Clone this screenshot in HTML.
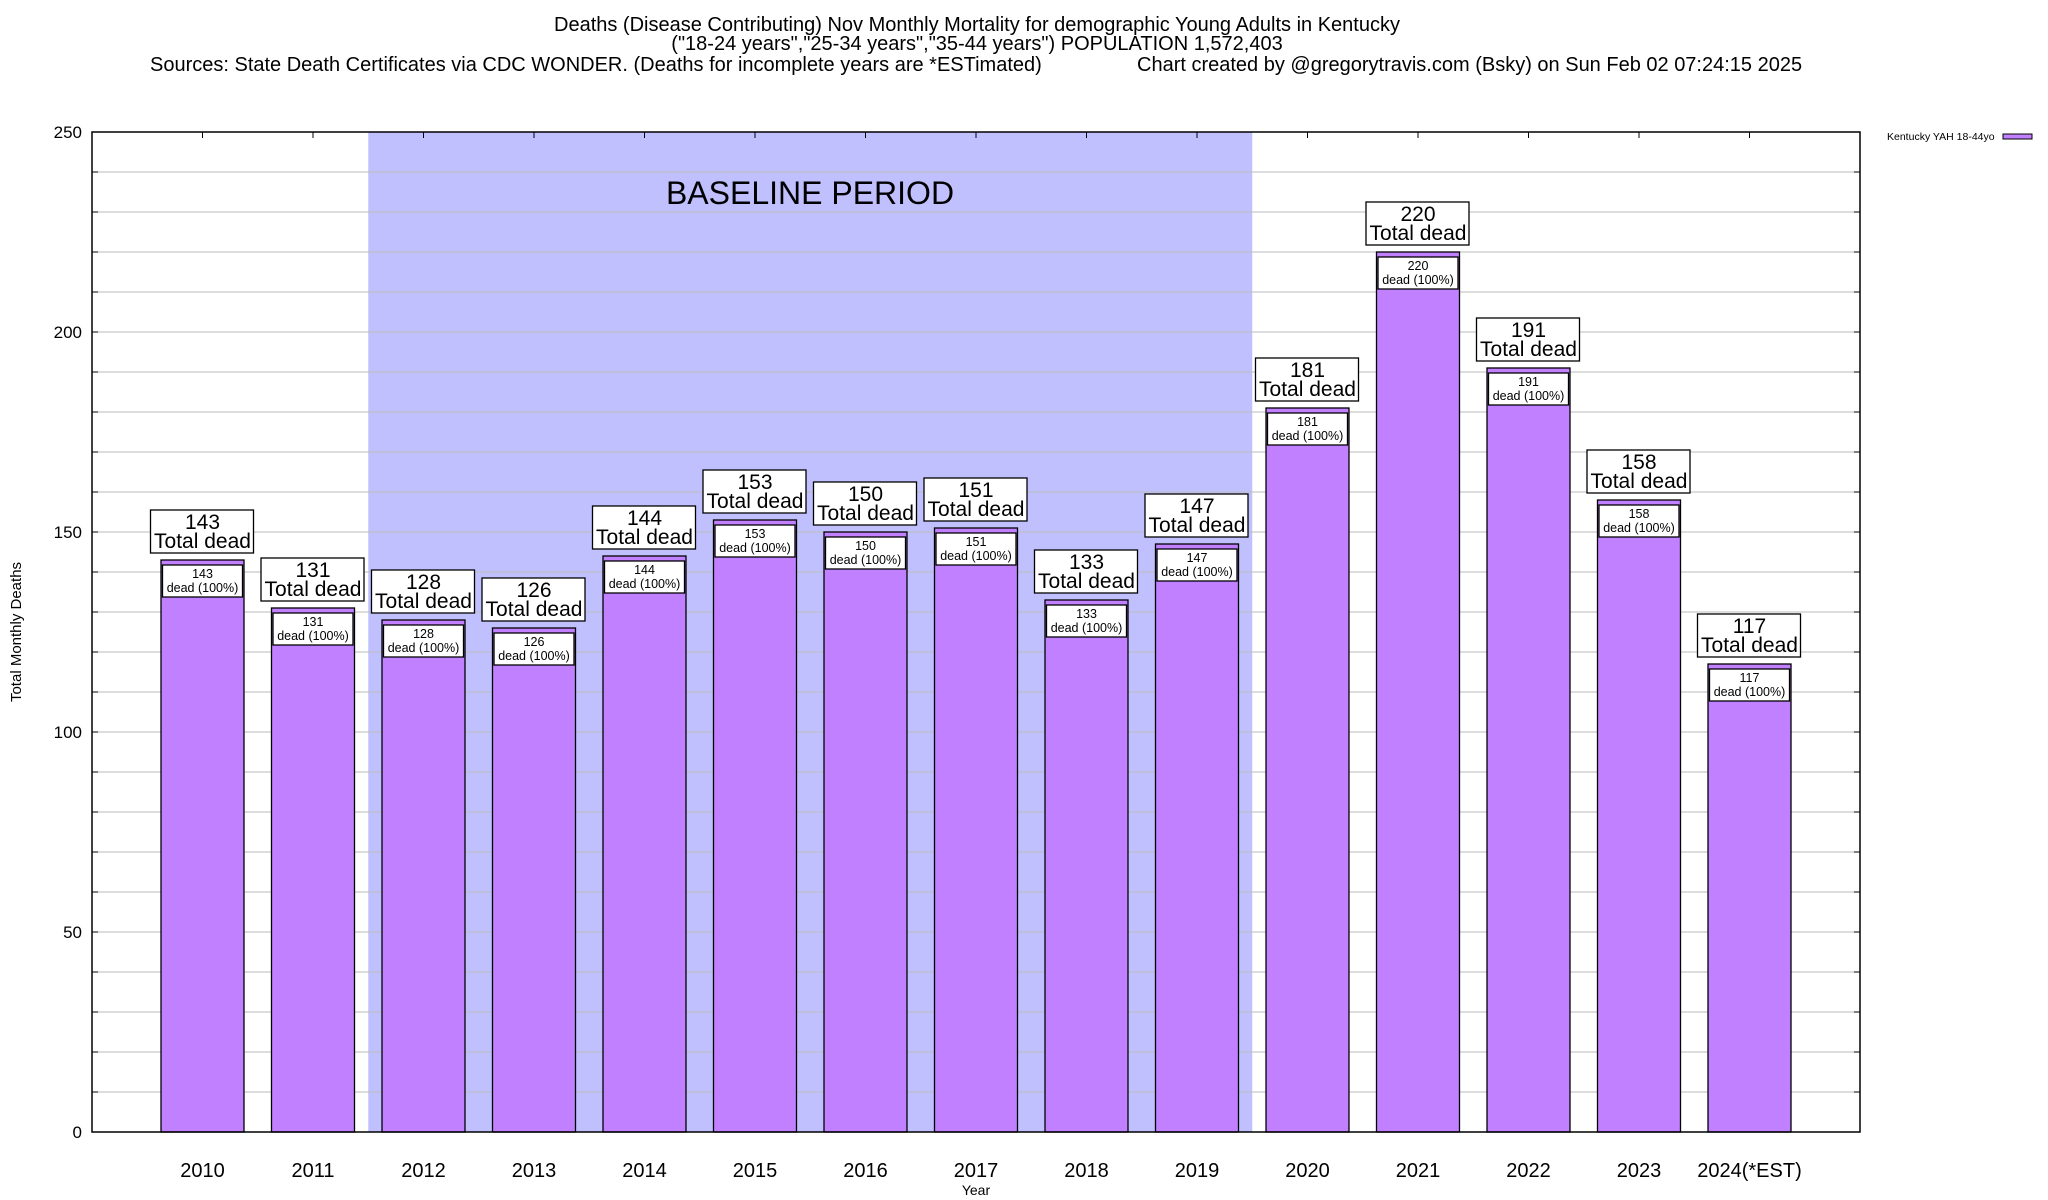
<!DOCTYPE html>
<html><head><meta charset="utf-8"><style>
html,body{margin:0;padding:0;background:#fff;}
svg{display:block;font-family:"Liberation Sans",Arial,sans-serif;}
</style></head><body>
<svg id="chart" width="2048" height="1200" viewBox="0 0 2048 1200" xmlns="http://www.w3.org/2000/svg">
<g font-size="20" fill="#000">
<text x="977" y="31" text-anchor="middle">Deaths (Disease Contributing) Nov Monthly Mortality for demographic Young Adults in Kentucky</text>
<text x="977" y="50" text-anchor="middle">("18-24 years","25-34 years","35-44 years") POPULATION 1,572,403</text>
<text x="150" y="71">Sources: State Death Certificates via CDC WONDER. (Deaths for incomplete years are *ESTimated)</text>
<text x="1137" y="71">Chart created by @gregorytravis.com (Bsky) on Sun Feb 02 07:24:15 2025</text>
</g>
<g id="plot"></g>
<text transform="translate(21,632) rotate(-90)" text-anchor="middle" font-size="15">Total Monthly Deaths</text>
<text x="976" y="1195" text-anchor="middle" font-size="14">Year</text>
<g>
<text x="1887" y="140" font-size="10.5">Kentucky YAH 18-44yo</text>
<rect x="2003" y="134" width="29" height="5" fill="#c080ff" stroke="#000" stroke-width="1"/>
</g>
</svg>
<script>
const categories = ["2010","2011","2012","2013","2014","2015","2016","2017","2018","2019","2020","2021","2022","2023","2024(*EST)"];
const deaths = [143,131,128,126,144,153,150,151,133,147,181,220,191,158,117];
const yTicks = [0,50,100,150,200,250];
const baselineStart = 2, baselineEnd = 9;

const L=92, R=1860, T=132, B=1132;
const xs = i => L + (i+1)*(R-L)/16;
const ys = v => B - v*(B-T)/250;
const NS="http://www.w3.org/2000/svg";
const g=document.getElementById('plot');
function mk(tag, attrs, parent){const e=document.createElementNS(NS,tag);for(const k in attrs)e.setAttribute(k,attrs[k]);(parent||g).appendChild(e);return e;}

const bl=mk('rect',{x:xs(baselineStart-0.5),y:T,width:xs(baselineEnd+0.5)-xs(baselineStart-0.5),height:B-T,fill:'#c0c0ff'});


const bt=mk('text',{x:810,y:204,'font-size':32,'text-anchor':'middle'});
bt.textContent='BASELINE PERIOD';



for(let v=10;v<250;v+=10){
  const gl=mk('line',{x1:L,x2:R,y1:ys(v),y2:ys(v),stroke:'#bbb','stroke-width':1});
  
  
  mk('line',{x1:L,x2:L+6,y1:ys(v),y2:ys(v),stroke:'#000'});
  mk('line',{x1:R-6,x2:R,y1:ys(v),y2:ys(v),stroke:'#000'});
}
yTicks.forEach(v=>{
  const t=mk('text',{x:L-10,y:ys(v)+6,'font-size':17,'text-anchor':'end'});
  t.textContent=v;
  
  
});

categories.forEach((c,i)=>{
  const cx=xs(i), v=deaths[i], w=83, top=ys(v);
  mk('line',{x1:cx,x2:cx,y1:T,y2:T+6,stroke:'#000'});
  const bar=mk('rect',{x:cx-w/2,y:top,width:w,height:B-top,fill:'#c080ff',stroke:'#000','stroke-width':1.3});
  
  
  const ib=mk('rect',{x:cx-40,y:top+5,width:80,height:32,fill:'#fff',stroke:'#000','stroke-width':1.3});
  
  
  const t1=mk('text',{x:cx,y:top+18,'font-size':12.5,'text-anchor':'middle'});t1.textContent=v;
  const t2=mk('text',{x:cx,y:top+32,'font-size':12.5,'text-anchor':'middle'});t2.textContent='dead (100%)';
  const tb=mk('rect',{x:cx-52,y:top-50,width:103,height:43,fill:'#fff',stroke:'#000','stroke-width':1.3});
  
  
  const t3=mk('text',{x:cx,y:top-31,'font-size':21,'text-anchor':'middle'});t3.textContent=v;
  const t4=mk('text',{x:cx,y:top-12,'font-size':21,'text-anchor':'middle'});t4.textContent='Total dead';
  const xl=mk('text',{x:cx,y:1177,'font-size':20,'text-anchor':'middle'});
  xl.textContent=c;
  
  
});
const fr=mk('rect',{x:L,y:T,width:R-L,height:B-T,fill:'none',stroke:'#000','stroke-width':1.5});


</script>
</body></html>
